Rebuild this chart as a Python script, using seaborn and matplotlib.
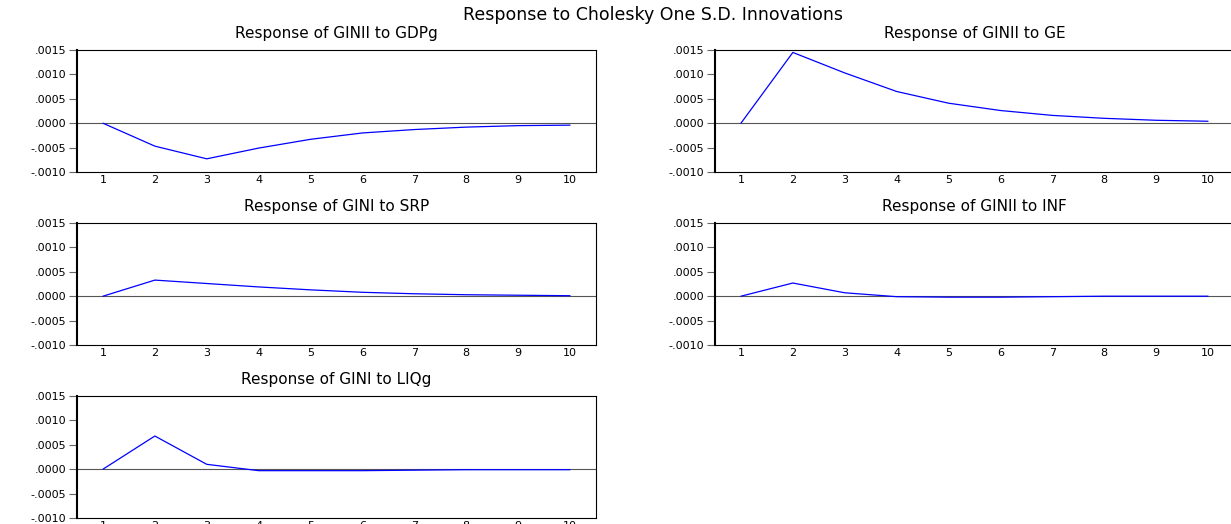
import numpy as np
import pandas as pd
import matplotlib
matplotlib.use("Agg")
import matplotlib.pyplot as plt
import seaborn as sns
from matplotlib.ticker import FixedLocator, FuncFormatter

# --- Data ---
periods = [1, 2, 3, 4, 5, 6, 7, 8, 9, 10]
gdpg = [0.0, -0.00047, -0.00073, -0.00051, -0.00033, -0.00020, -0.00013, -0.00008, -0.00005, -0.00004]
ge = [0.0, 0.00145, 0.00103, 0.00065, 0.00041, 0.00026, 0.00016, 0.00010, 0.00006, 0.00004]
srp = [0.0, 0.00033, 0.00026, 0.00019, 0.00013, 0.00008, 0.00005, 0.00003, 0.00002, 0.00001]
inf = [0.0, 0.00027, 0.00007, -0.00001, -0.00002, -0.00002, -0.00001, 0.0, 0.0, 0.0]
liqg = [0.0, 0.00068, 0.00010, -0.00003, -0.00003, -0.00003, -0.00002, -0.00001, -0.00001, -0.00001]

titles = ["Response of GINII to GDPg", "Response of GINII to GE",
          "Response of GINI to SRP", "Response of GINII to INF",
          "Response of GINI to LIQg"]
series = [gdpg, ge, srp, inf, liqg]
yticks = [-0.0010, -0.0005, 0.0, 0.0005, 0.0010, 0.0015]

sns.set_style("white")
plt.rcParams['font.family'] = ['DejaVu Sans']
plt.rcParams['text.color'] = 'black'

W, H = 1231, 524
fig = plt.figure(figsize=(W / 100, H / 100), dpi=100)

# panel boxes in pixels: (left, right) and (top, bottom)
cols = [(77, 596), (715, 1234)]
rows = [(50, 172), (223, 345), (396, 518)]


def fmt(v, pos):
    s = f"{v:.4f}".replace("0.", ".", 1)
    if s == "-.0000":
        s = ".0000"
    return s


for i, (title, vals) in enumerate(zip(titles, series)):
    r, c = divmod(i, 2)
    x0, x1 = cols[c]
    y0, y1 = rows[r]
    ax = fig.add_axes([x0 / W, 1 - y1 / H, (x1 - x0) / W, (y1 - y0) / H])
    df = pd.DataFrame({"period": periods, "value": vals})
    ax.axhline(0, color="#555555", lw=0.8, zorder=1)
    sns.lineplot(data=df, x="period", y="value", ax=ax, color="#0000ff", lw=0.9, zorder=3)
    ax.set_xlim(0.5, 10.5)
    ax.set_ylim(-0.0010, 0.0015)
    ax.set_xticks(periods)
    ax.xaxis.set_minor_locator(FixedLocator(np.arange(0.5, 11, 1)))
    ax.tick_params(axis="x", which="major", length=0, labelsize=8, pad=2, labelcolor="black")
    ax.tick_params(axis="x", which="minor", length=3, direction="in", width=0.8, color="black")
    ax.set_yticks(yticks)
    ax.yaxis.set_major_formatter(FuncFormatter(fmt))
    ax.tick_params(axis="y", which="major", length=6, direction="out", width=0.8,
                   color="#666666", labelsize=8, pad=2, left=True, labelcolor="black")
    ax.set_xlabel("")
    ax.set_ylabel("")
    for side in ["top", "right", "bottom"]:
        ax.spines[side].set_color("black")
        ax.spines[side].set_linewidth(0.8)
    ax.spines["left"].set_color("black")
    ax.spines["left"].set_linewidth(1.5)
    ax.set_title(title, fontsize=11, pad=8.5, color="black")

fig.text(653 / W, 1 - 15 / H, "Response to Cholesky One S.D. Innovations",
         ha="center", va="center", fontsize=12.5, color="black")

fig.savefig("out.png", dpi=100)
